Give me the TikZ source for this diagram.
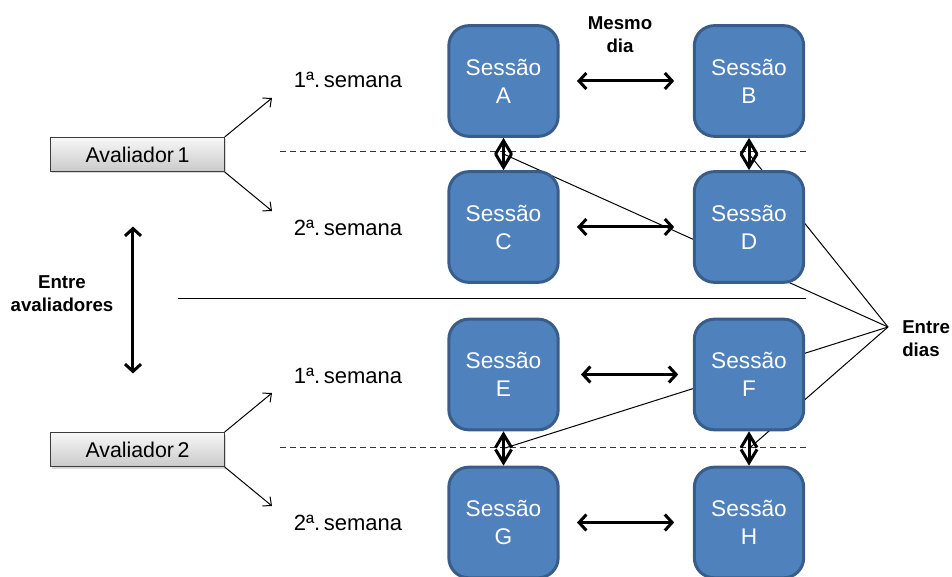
\documentclass[tikz,border=0pt]{standalone}
\usepackage{fontspec}
\setmainfont{Liberation Sans}
\usepackage{tikz}
\usetikzlibrary{arrows.meta,calc,positioning,shadows,backgrounds}
\definecolor{sessfill}{HTML}{4F81BD}
\definecolor{sessline}{HTML}{385D8A}
\definecolor{boxline}{HTML}{3C3C3C}
\tikzset{
  sessao/.style={draw=sessline,fill=sessfill,line width=2.25pt,rounded corners=15pt,
    minimum width=82pt,minimum height=83pt,text=white,align=center,
    font=\fontsize{17}{21}\selectfont},
  avaliador/.style={draw=boxline,line width=0.6pt,top color=gray!6,bottom color=gray!42,
    minimum width=130pt,minimum height=25.5pt,font=\fontsize{16}{19}\selectfont,
    drop shadow={opacity=0.3,shadow xshift=1.2pt,shadow yshift=-1.5pt}},
  semana/.style={font=\fontsize{16.5}{19}\selectfont},
  rotulo/.style={font=\bfseries\fontsize{14}{17}\selectfont,align=center},
  par/.style={{Straight Barb[length=5.5pt,width=12pt]}-{Straight Barb[length=5.5pt,width=12pt]},line width=2.25pt},
  vpar/.style={{Straight Barb[length=10pt,width=12pt]}-{Straight Barb[length=10pt,width=12pt]},line width=2.25pt},
  fina/.style={-{Straight Barb[length=5pt,width=9pt]},line width=0.75pt},
}
\begin{document}
\begin{tikzpicture}[x=0.75pt,y=-0.75pt]
  \useasboundingbox (0,0) rectangle (952,577);
  % sessoes
  \node[sessao] (A) at (503.5,81) {Sessão\\A};
  \node[sessao] (B) at (749,81) {Sessão\\B};
  \node[sessao] (C) at (503.5,227) {Sessão\\C};
  \node[sessao] (D) at (749,227) {Sessão\\D};
  \node[sessao] (E) at (503.5,374.5) {Sessão\\E};
  \node[sessao] (F) at (749,374.5) {Sessão\\F};
  \node[sessao] (G) at (503.5,522.5) {Sessão\\G};
  \node[sessao] (H) at (749,522.5) {Sessão\\H};
  % avaliadores e semanas
  \node[avaliador] (av1) at (137.5,154.5) {Avaliador\,1};
  \node[avaliador] (av2) at (137.5,449.5) {Avaliador\,2};
  \node[semana] (w1) at (348,80) {1ª.\,semana};
  \node[semana] (w2) at (348,228) {2ª.\,semana};
  \node[semana] (w3) at (348,376) {1ª.\,semana};
  \node[semana] (w4) at (348,523) {2ª.\,semana};
  \coordinate (t1) at (272,98); \coordinate (t2) at (272,211);
  \coordinate (t3) at (272,393); \coordinate (t4) at (272,506);
  \draw[fina] (av1.north east)--(t1); \draw[fina] (av1.south east)--(t2);
  \draw[fina] (av2.north east)--(t3); \draw[fina] (av2.south east)--(t4);
  % rotulos
  \node[rotulo] (mesmo) at (620,35) {Mesmo\\dia};
  \node[rotulo] (entreav) at (62,294) {Entre\\avaliadores};
  \node[rotulo,align=left,anchor=west,inner sep=0pt] (entredias) at (902,339) {Entre\\dias};
  \coordinate (ed) at (888,327);
  % linhas divisorias
  \coordinate (d1) at (280,152); \coordinate (d2) at (806,152);
  \coordinate (d3) at (280,447); \coordinate (d4) at (806,447);
  \coordinate (s1) at (178,298); \coordinate (s2) at (806,298);
  \draw[dash pattern=on 4.5pt off 3pt,line width=0.75pt,black!80] (d1)--(d2);
  \draw[dash pattern=on 4.5pt off 3pt,line width=0.75pt,black!80] (d3)--(d4);
  \draw[line width=0.75pt] (s1)--(s2);
  \begin{scope}[on background layer]
    \draw[line width=0.75pt] (ed)--($(A.south)!0.5!(C.north)$);
    \draw[line width=0.75pt] (ed)--($(B.south)!0.5!(D.north)$);
    \draw[line width=0.75pt] (ed)--($(E.south)!0.5!(G.north)$);
    \draw[line width=0.75pt] (ed)--($(F.south)!0.5!(H.north)$);
  \end{scope}
  % setas
  \draw[par,shorten <=13pt,shorten >=14pt] (A)--(B);
  \draw[par,shorten <=13pt,shorten >=14pt] (C)--(D);
  \draw[par,shorten <=16pt,shorten >=11pt] (E)--(F);
  \draw[par,shorten <=13pt,shorten >=14pt] (G)--(H);
  \draw[vpar] (A)--(C); \draw[vpar] (B)--(D);
  \draw[vpar] (E)--(G); \draw[vpar] (F)--(H);
  \draw[par,shorten <=41pt,shorten >=44pt,transform canvas={xshift=-3.4pt}] (av1.south)--(av2.north);
\end{tikzpicture}
\end{document}
